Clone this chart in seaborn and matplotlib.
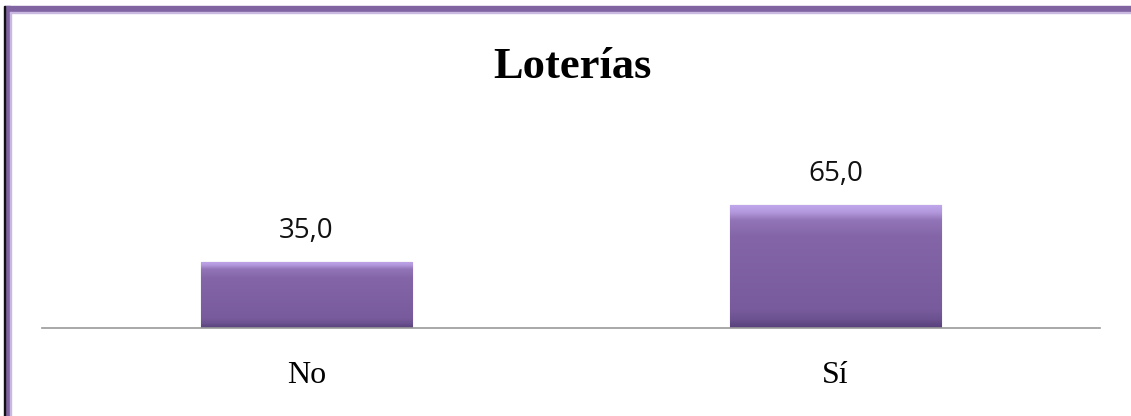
import numpy as np
import pandas as pd
import matplotlib
matplotlib.use('Agg')
import matplotlib.pyplot as plt
import seaborn as sns
from matplotlib.patches import Rectangle

# Datos del grafico
categorias = ['No', 'Sí']
porcentajes = [35.0, 65.0]
titulo = 'Loterías'

df = pd.DataFrame({'cat': categorias, 'val': porcentajes})

sns.set_style('white')
fig = plt.figure(figsize=(11.31, 4.16), dpi=100)
ax = fig.add_axes([42 / 1131, 88 / 416, 1058 / 1131, 189 / 416])

sns.barplot(data=df, x='cat', y='val', color='#8064A2', width=0.4,
            saturation=1, edgecolor='#5f4a7d', linewidth=0.8, ax=ax)

# efecto de bisel: degradado vertical recortado a cada barra
grad = np.linspace(0, 1, 256).reshape(-1, 1)
cmap = matplotlib.colors.LinearSegmentedColormap.from_list(
    'bisel', [(0.0, '#56407a'), (0.07, '#6c5290'), (0.15, '#785b9c'),
              (0.75, '#8466a8'), (0.88, '#9275b8'), (0.94, '#b297dc'),
              (1.0, '#c0a6ea')])
for p in ax.patches:
    x0, y0 = p.get_x(), p.get_y()
    w, h = p.get_width(), p.get_height()
    im = ax.imshow(grad, cmap=cmap, extent=[x0, x0 + w, y0, y0 + h],
                   origin='lower', aspect='auto', zorder=p.get_zorder() + 0.1)
    im.set_clip_path(p)

for p, v in zip(ax.patches, porcentajes):
    ax.text(p.get_x() + p.get_width() / 2, v + 9, f'{v:.1f}'.replace('.', ','),
            ha='center', va='bottom', fontsize=20, family='Open Sans',
            color='#111111')

ax.set_xlim(-0.5, 1.5)
ax.set_ylim(0, 100)
ax.set_xlabel('')
ax.set_ylabel('')
ax.set_yticks([])
ax.tick_params(axis='x', length=0, pad=24, colors='black')
for lab in ax.get_xticklabels():
    lab.set_family('Liberation Serif')
    lab.set_fontsize(23)
for s in ['top', 'right', 'left']:
    ax.spines[s].set_visible(False)
ax.spines['bottom'].set_color('#9a9a9a')
ax.spines['bottom'].set_linewidth(1.2)

fig.text(572 / 1131, 1 - 78 / 416, titulo, ha='center', va='baseline',
         color='black', fontsize=32, fontweight='bold',
         family='Liberation Serif')

# marco morado del grafico
fig.patches.append(Rectangle((5 / 1131, 0), 5 / 1131, 410 / 416,
                             transform=fig.transFigure, color='#8064A2', zorder=5))
fig.patches.append(Rectangle((5 / 1131, 404 / 416), 1126 / 1131, 6 / 416,
                             transform=fig.transFigure, color='#8064A2', zorder=5))
fig.patches.append(Rectangle((3.5 / 1131, 0), 1.5 / 1131, 410 / 416,
                             transform=fig.transFigure, color='#111111', zorder=5))
fig.patches.append(Rectangle((10 / 1131, 0), 1 / 1131, 404 / 416,
                             transform=fig.transFigure, color='#c9b8e0', zorder=5))
fig.patches.append(Rectangle((10 / 1131, 403 / 416), 1121 / 1131, 1 / 416,
                             transform=fig.transFigure, color='#c9b8e0', zorder=5))

fig.savefig('out.png', dpi=100)
